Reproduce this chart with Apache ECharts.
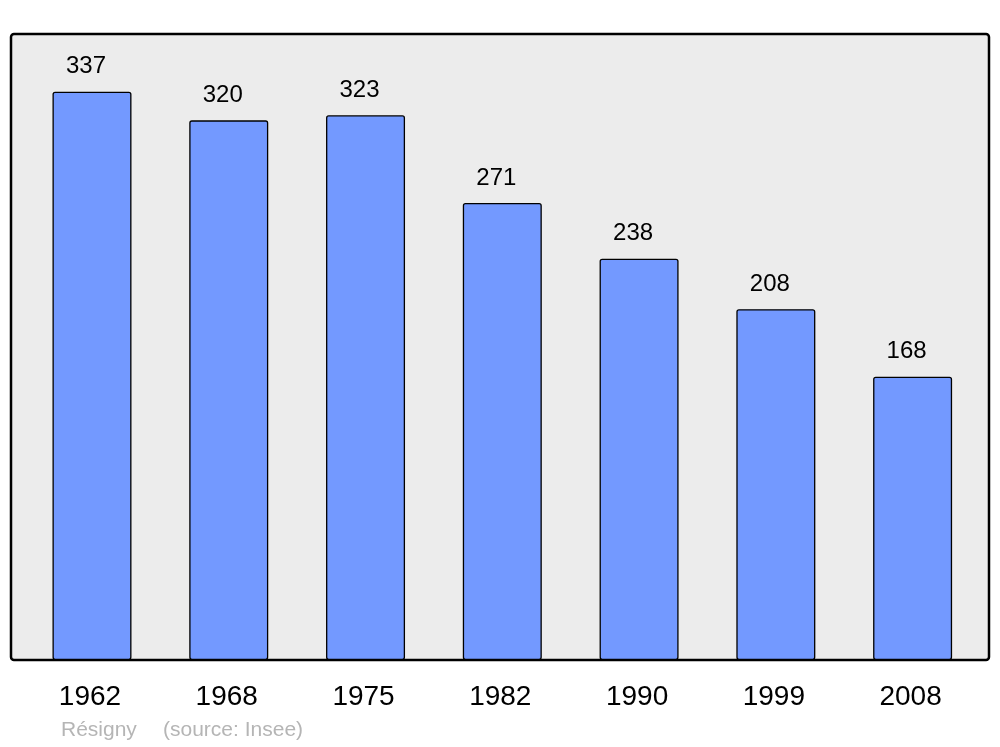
<!DOCTYPE html>
<html>
<head>
<meta charset="utf-8">
<script src="https://cdn.jsdelivr.net/npm/echarts@6/dist/echarts.min.js"></script>
<style>html,body{margin:0;padding:0;background:#fff;}#c{width:1000px;height:747px;}</style>
</head>
<body>
<div id="c"></div>
<script>
const years = ['1962', '1968', '1975', '1982', '1990', '1999', '2008'];
const population = [337, 320, 323, 271, 238, 208, 168];
const placeName = 'Résigny';
const sourceText = '(source: Insee)';

const chart = echarts.init(document.getElementById('c'), null, {renderer: 'canvas'});
const FONT = '"Liberation Sans", Arial, sans-serif';
chart.setOption({
  animation: false,
  backgroundColor: '#ffffff',
  grid: {left: 23.6, right: 19, top: 34, bottom: 87, containLabel: false},
  xAxis: {
    type: 'category',
    data: years,
    axisLine: {show: false},
    axisTick: {show: false},
    axisLabel: {color: '#000', fontSize: 28, fontFamily: FONT, margin: 23, padding: [0, 4, 0, 0]}
  },
  yAxis: {type: 'value', min: 0, max: 371.2, show: false, splitLine: {show: false}},
  graphic: [
    {type: 'rect', z: -10, shape: {x: 11, y: 34, width: 978, height: 626, r: 3},
     style: {fill: '#ececec', stroke: '#000', lineWidth: 2.5}},
    {type: 'text', left: 61, top: 720, style: {text: placeName, fill: '#b5b5b5', fontSize: 21, fontFamily: FONT}},
    {type: 'text', left: 163, top: 720, style: {text: sourceText, fill: '#b5b5b5', fontSize: 21, fontFamily: FONT}}
  ],
  series: [{
    type: 'bar',
    data: population,
    barWidth: 79,
    itemStyle: {color: '#7399ff', borderColor: '#000', borderWidth: 1.3, borderRadius: 2},
    label: {show: true, position: 'top', distance: 13, offset: [-6, 0], color: '#000', fontSize: 24, fontFamily: FONT}
  }]
});
</script>
</body>
</html>
